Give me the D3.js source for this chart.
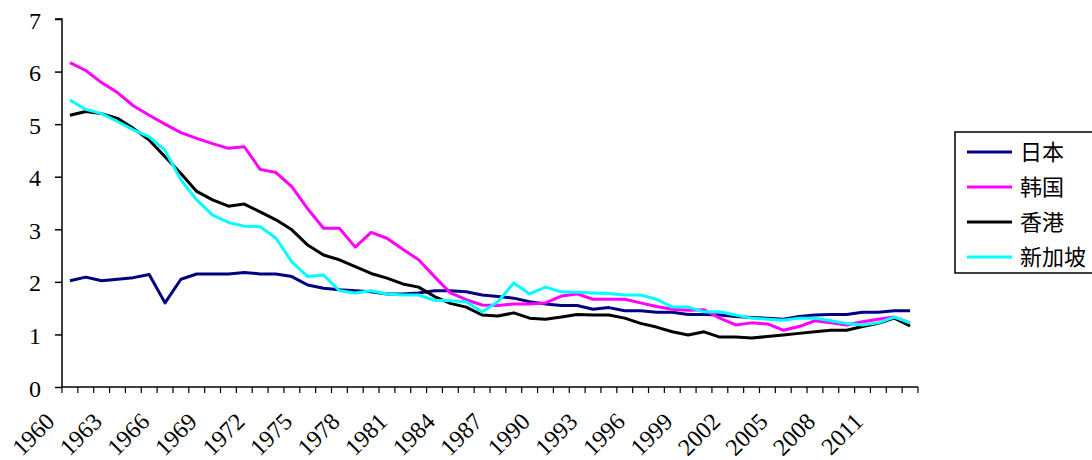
<!DOCTYPE html>
<html>
<head>
<meta charset="utf-8">
<script src="https://cdn.jsdelivr.net/npm/d3@7"></script>
<style>
  body { margin: 0; background: #fff; }
  svg { display: block; }
</style>
</head>
<body>
<div id="chart"></div>
<script>
// ***Data***
var years = d3.range(1960, 2014);
var seriesNames = ["日本", "韩国", "香港", "新加坡"];
var japan = [2.02, 2.09, 2.02, 2.05, 2.08, 2.14, 1.60, 2.05, 2.15, 2.15,
             2.15, 2.18, 2.15, 2.15, 2.10, 1.94, 1.88, 1.85, 1.83, 1.81,
             1.77, 1.77, 1.79, 1.83, 1.83, 1.81, 1.75, 1.72, 1.69, 1.62,
             1.58, 1.55, 1.55, 1.48, 1.51, 1.45, 1.45, 1.42, 1.42, 1.38,
             1.38, 1.37, 1.34, 1.32, 1.31, 1.29, 1.34, 1.37, 1.38, 1.38,
             1.42, 1.42, 1.45, 1.45];
var korea = [6.17, 6.02, 5.79, 5.60, 5.35, 5.17, 5.00, 4.84, 4.73, 4.63,
             4.54, 4.57, 4.14, 4.08, 3.81, 3.39, 3.02, 3.02, 2.66, 2.94,
             2.83, 2.62, 2.42, 2.10, 1.79, 1.66, 1.56, 1.55, 1.58, 1.58,
             1.60, 1.73, 1.77, 1.67, 1.67, 1.67, 1.60, 1.53, 1.48, 1.46,
             1.47, 1.31, 1.18, 1.22, 1.20, 1.08, 1.15, 1.26, 1.22, 1.18,
             1.24, 1.29, 1.33, 1.22];
var hongkong = [5.17, 5.24, 5.20, 5.11, 4.92, 4.70, 4.38, 4.06, 3.72, 3.56,
                3.44, 3.48, 3.33, 3.18, 2.99, 2.70, 2.51, 2.42, 2.29, 2.16,
                2.07, 1.96, 1.90, 1.72, 1.59, 1.52, 1.37, 1.35, 1.41, 1.31,
                1.29, 1.33, 1.38, 1.37, 1.37, 1.31, 1.21, 1.14, 1.05, 0.99,
                1.05, 0.95, 0.95, 0.93, 0.96, 0.99, 1.02, 1.05, 1.08, 1.08,
                1.15, 1.21, 1.31, 1.16];
var singapore = [5.46, 5.28, 5.20, 5.05, 4.89, 4.76, 4.50, 3.94, 3.56, 3.27,
                 3.13, 3.06, 3.05, 2.83, 2.38, 2.10, 2.13, 1.83, 1.79, 1.83,
                 1.77, 1.75, 1.75, 1.65, 1.64, 1.62, 1.43, 1.62, 1.98, 1.77,
                 1.90, 1.81, 1.80, 1.79, 1.78, 1.75, 1.75, 1.67, 1.52, 1.52,
                 1.43, 1.43, 1.37, 1.31, 1.29, 1.27, 1.31, 1.31, 1.26, 1.21,
                 1.18, 1.22, 1.33, 1.22];
var yTicks = [0, 1, 2, 3, 4, 5, 6, 7];
var xLabelYears = d3.range(1960, 2014, 3);
var colors = ["#000080", "#ff00ff", "#000000", "#00ffff"];

function init() {
	var w = 1092;
	var h = 460;
	var left = 62, right = 918, top = 19, bottom = 387;
	var serif = "'Liberation Serif', 'DejaVu Serif', serif";

	var xScale = d3.scaleBand()
				.domain(years)
				.range([left, right]);

	var yScale = d3.scaleLinear()
				.domain([0, 7])
				.range([bottom, top]);

	var svg = d3.select("#chart")
				.append("svg")
				.attr("width", w)
				.attr("height", h);

	// y axis
	var yAxis = d3.axisLeft(yScale)
				.tickValues(yTicks)
				.tickSize(7)
				.tickPadding(14)
				.tickFormat(d3.format("d"));
	var gy = svg.append("g")
			.attr("transform", "translate(" + left + ",0)")
			.call(yAxis);
	gy.attr("font-family", null).attr("font-size", null);
	gy.selectAll("path, line").attr("stroke", "#000").attr("stroke-width", 1.5);
	gy.select(".domain").attr("d", "M-7," + top + "H0V" + bottom);
	gy.selectAll("text")
		.style("font-family", serif)
		.style("font-size", "24px")
		.attr("fill", "#000")
		.attr("dy", "0.38em");

	// x axis: ticks on category boundaries
	var gx = svg.append("g");
	gx.append("line")
		.attr("x1", left).attr("x2", right)
		.attr("y1", bottom).attr("y2", bottom)
		.attr("stroke", "#000").attr("stroke-width", 1.5);
	gx.selectAll("line.tick")
		.data(years.concat([2014]))
		.enter()
		.append("line")
		.attr("class", "tick")
		.attr("x1", function(d, i) { return left + i * xScale.step(); })
		.attr("x2", function(d, i) { return left + i * xScale.step(); })
		.attr("y1", bottom)
		.attr("y2", bottom + 6)
		.attr("stroke", "#000").attr("stroke-width", 1.2);
	gx.selectAll("text")
		.data(xLabelYears)
		.enter()
		.append("text")
		.style("font-family", serif)
		.style("font-size", "24px")
		.attr("fill", "#000")
		.attr("text-anchor", "end")
		.attr("transform", function(d) {
			var cx = xScale(d) + xScale.bandwidth() / 2;
			return "translate(" + (cx - 14) + "," + (bottom + 36) + ") rotate(-45)";
		})
		.text(function(d) { return d; });

	// lines
	var allSeries = [japan, korea, hongkong, singapore];
	var line = d3.line()
				.x(function(d, i) { return xScale(years[i]) + xScale.bandwidth() / 2; })
				.y(function(d) { return yScale(d); });

	svg.selectAll("path.series")
		.data(allSeries)
		.enter()
		.append("path")
		.attr("class", "series")
		.attr("d", line)
		.attr("fill", "none")
		.attr("stroke", function(d, i) { return colors[i]; })
		.attr("stroke-width", 3)
		.attr("stroke-linejoin", "round");

	// legend
	var lg = svg.append("g");
	lg.append("rect")
		.attr("x", 955).attr("y", 132)
		.attr("width", 150).attr("height", 141)
		.attr("fill", "#fff")
		.attr("stroke", "#000").attr("stroke-width", 1.5);
	var rows = lg.selectAll("g.row")
		.data(seriesNames)
		.enter()
		.append("g")
		.attr("class", "row")
		.attr("transform", function(d, i) { return "translate(0," + (152 + i * 35) + ")"; });
	rows.append("line")
		.attr("x1", 967).attr("x2", 1012)
		.attr("y1", 0).attr("y2", 0)
		.attr("stroke", function(d, i) { return colors[i]; })
		.attr("stroke-width", 3);
	rows.append("text")
		.attr("x", 1020)
		.attr("y", 0)
		.attr("dy", "0.36em")
		.style("font-size", "22px")
		.style("font-family", "'Noto Sans CJK SC', sans-serif")
		.attr("fill", "#000")
		.text(function(d) { return d; });
}

window.onload = init;
</script>
</body>
</html>
